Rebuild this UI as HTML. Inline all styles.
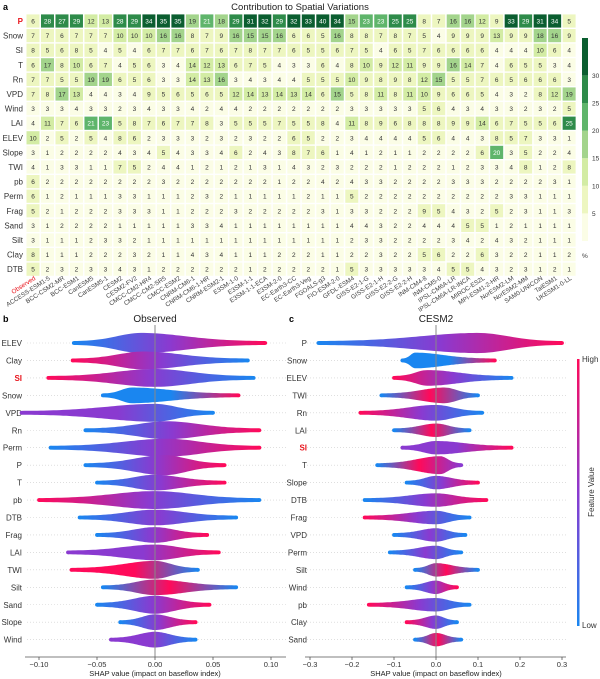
<!DOCTYPE html>
<html><head><meta charset="utf-8"><style>
html,body{margin:0;padding:0;background:#fff;}
svg{display:block;font-family:"Liberation Sans",sans-serif;}
</style></head><body>
<svg id="s" width="600" height="679" viewBox="0 0 600 679" xmlns="http://www.w3.org/2000/svg">
<defs></defs>
</svg>
<script>
const S=document.getElementById('s');const NS='http://www.w3.org/2000/svg';
function el(t,a,txt){const e=document.createElementNS(NS,t);for(const k in a)e.setAttribute(k,a[k]);if(txt!==undefined)e.textContent=txt;S.appendChild(e);return e;}
const defs=S.querySelector('defs');
const rows=["P","Snow","SI","T","Rn","VPD","Wind","LAI","ELEV","Slope","TWI","pb","Perm","Frag","Sand","Silt","Clay","DTB"];
const D=[
"6 28 27 29 12 13 28 29 34 35 35 19 21 18 29 31 32 29 32 33 40 34 15 23 23 25 25 8 7 16 16 12 9 33 29 31 34 5",
"7 7 6 7 7 7 10 10 10 16 16 8 7 9 16 15 15 16 6 6 5 16 8 8 7 8 7 5 4 9 9 9 13 9 9 18 16 9",
"8 5 6 8 5 4 5 4 6 7 7 6 7 6 7 8 7 7 6 5 5 6 7 5 4 6 5 7 6 6 6 6 4 4 4 10 6 4",
"6 17 8 10 6 7 4 5 6 3 4 14 12 13 6 7 5 4 3 3 6 4 8 10 9 12 11 9 9 16 14 7 4 6 5 5 3 4",
"7 7 5 5 19 19 6 5 6 3 3 14 13 16 3 4 3 4 4 5 5 5 10 9 8 9 8 12 15 5 5 7 6 5 6 6 6 3",
"7 8 17 13 4 4 3 4 9 5 6 5 6 5 12 14 13 14 13 14 6 15 5 8 11 8 11 10 9 6 6 5 4 3 2 8 12 19",
"3 3 3 4 3 3 2 3 4 3 3 4 2 4 4 2 2 2 2 2 2 2 3 3 3 3 3 5 6 4 3 4 3 3 2 3 2 5",
"4 11 7 6 21 23 5 8 7 6 7 7 8 3 5 5 5 7 5 5 8 4 11 8 9 6 8 8 8 9 9 14 6 7 5 5 6 25",
"10 2 5 2 5 4 8 6 2 3 3 3 2 3 2 3 2 2 6 5 2 2 3 4 4 4 4 5 6 4 4 3 8 5 7 3 3 1",
"3 1 2 2 2 2 4 3 4 5 4 3 3 4 6 2 4 3 8 7 6 1 4 1 2 1 1 2 2 2 2 6 20 3 5 2 2 4",
"4 1 3 3 1 1 7 5 2 4 4 1 2 1 2 1 3 1 4 3 2 3 2 2 2 1 2 2 2 1 2 3 3 4 8 1 2 8",
"6 2 2 2 2 2 2 2 2 3 2 2 2 2 2 2 2 1 2 2 4 2 4 3 3 2 2 2 2 3 3 3 2 2 2 2 3 1",
"6 1 2 1 1 1 3 3 1 1 1 2 3 2 1 1 1 1 1 2 1 1 5 2 2 2 2 2 2 2 2 2 2 3 3 1 1 1",
"5 2 1 2 2 2 3 3 3 1 1 2 2 2 3 2 2 2 2 2 3 1 3 3 2 2 2 9 5 4 3 2 5 2 3 1 1 3",
"3 1 2 2 2 2 1 1 1 1 1 3 3 4 1 1 1 1 1 1 1 1 4 4 3 2 2 4 4 4 5 5 1 2 1 1 1 1",
"3 1 1 1 2 3 3 2 1 1 1 1 1 1 1 1 1 1 1 1 1 1 2 3 3 2 2 2 2 3 4 2 4 3 2 1 1 1",
"8 1 1 1 2 2 2 3 2 1 1 4 3 4 1 1 1 2 2 2 1 1 2 2 3 2 2 5 6 2 2 6 3 2 2 1 1 2",
"5 2 3 2 3 3 4 3 1 2 2 2 2 2 2 1 2 2 2 2 2 1 5 3 3 3 3 3 4 5 5 4 3 2 3 1 2 1"];
const cols=["Observed","ACCESS-ESM1-5","BCC-CSM2-MR","BCC-ESM1","CanESM5","CanESM5-1","CESM2","CESM2-FV2","CMCC-CM2-HR4","CMCC-CM2-SR5","CMCC-ESM2","CNRM-CM6-1","CNRM-CM6-1-HR","CNRM-ESM2-1","E3SM-1-0","E3SM-1-1","E3SM-1-1-ECA","E3SM-2-0","EC-Earth3-CC","EC-Earth3-Veg","FGOALS-g3","FIO-ESM-2-0","GFDL-ESM4","GISS-E2-1-G","GISS-E2-1-H","GISS-E2-2-G","GISS-E2-2-H","INM-CM4-8","INM-CM5-0","IPSL-CM6A-LR","IPSL-CM6A-LR-INCA","MIROC-ES2L","MPI-ESM1-2-HR","NorESM2-LM","NorESM2-MM","SAM0-UNICON","TaiESM1","UKESM1-0-LL"];
const bands=["#fbfde6","#edf6c0","#d3eca4","#a3d48c","#5fb56b","#2e8b4a","#0b5e30"];
function col(v){return bands[Math.min(6,Math.floor(v/5))];}
const x0=33,px=14.49,y0=21,py=14.6;
el('text',{x:3,y:10,'font-size':9,'font-weight':'bold'},'a');
el('text',{x:300,y:10,'font-size':9.5,'text-anchor':'middle',fill:'#222'},'Contribution to Spatial Variations');
rows.forEach((r,i)=>{
  const y=y0+i*py;
  el('text',{x:23,y:y+3,'font-size':8,'text-anchor':'end',fill:r=='P'?'#e8141c':'#333','font-weight':r=='P'?'bold':'normal'},r);
  D[i].split(' ').map(Number).forEach((v,j)=>{
    const x=x0+j*px;
    el('rect',{x:x-6.5,y:y-6.6,width:13,height:13.2,fill:col(v)});
    el('text',{x:x,y:y+2.5,'font-size':6.5,'text-anchor':'middle',fill:v>=20?'#fff':'#333'},v);
  });
});
cols.forEach((c,j)=>{
  const x=x0+j*px+3, y=y0+17*py+10;
  el('text',{x:x,y:y,'font-size':6.3,'text-anchor':'end',fill:j==0?'#e8141c':'#444',transform:`rotate(-33 ${x} ${y})`},c);
});
const cb0=241,cbu=5.52;
for(let k=0;k<7;k++){const top=k==6?38:cb0-(k+1)*5*cbu;el('rect',{x:582,y:top,width:6,height:cb0-k*5*cbu-top,fill:bands[k]});}
[5,10,15,20,25,30].forEach(v=>el('text',{x:592,y:cb0-v*cbu+2.5,'font-size':6.5,fill:'#333'},v));
el('text',{x:582,y:258,'font-size':6.5,fill:'#333'},'%');
const B="#1a86f0",R="#ff0a5a",Pp="#8a3ad0";
let gid=0;
function grad(c1,c2,cm){const g=document.createElementNS(NS,'linearGradient');const id='g'+(gid++);g.setAttribute('id',id);
 const st=[[0,c1]];if(cm)st.push([0.5,cm]);st.push([1,c2]);
 st.forEach(([o,c])=>{const s=document.createElementNS(NS,'stop');s.setAttribute('offset',o);s.setAttribute('stop-color',c);g.appendChild(s);});defs.appendChild(g);return id;}
function swarm(cx,scale,yTop,label,rowsData,axisL,axisR,ticks,title,labX){
 el('text',{x:cx,y:322,'font-size':10,'text-anchor':'middle',fill:'#222'},title);
 rowsData.forEach((d,i)=>{
  let [lab,mn,mx,pk,h,c1,c2,cm]=d;h*=1.12;const y=yTop+i*17.45;
  el('line',{x1:axisL+2,x2:axisR,y1:y,y2:y,stroke:'#ccc','stroke-width':0.6,'stroke-dasharray':'1,2'});
  el('text',{x:labX,y:y+3,'font-size':8,'text-anchor':'end',fill:lab=='SI'?'#e8141c':'#333','font-weight':lab=='SI'?'bold':'normal'},lab);
  const xa=cx+mn*scale,xb=cx+mx*scale,xp=cx+pk*scale;
  const N=60;let top=[],bot=[];
  for(let k=0;k<=N;k++){const x=xa+(xb-xa)*k/N;const w=x<xp?(xp-xa)/2.0:(xb-xp)/2.0;
   let hh=1.8+(h-1.8)*Math.exp(-Math.pow((x-xp)/w,2));
   top.push([x,y-hh]);bot.push([x,y+hh]);}
  const pts=top.concat(bot.reverse()).map(p=>p[0].toFixed(1)+','+p[1].toFixed(1)).join(' ');
  const id=grad(c1,c2,cm);
  el('polygon',{points:pts,fill:`url(#${id})`});
  el('circle',{cx:xa,cy:y,r:1.9,fill:c1});el('circle',{cx:xb,cy:y,r:1.9,fill:c2});
 });
 el('line',{x1:cx,x2:cx,y1:yTop-18,y2:657,stroke:'#888','stroke-width':1});
 el('line',{x1:axisL,x2:axisR,y1:657,y2:657,stroke:'#555','stroke-width':0.8});
 ticks.forEach(t=>{const x=cx+t[0]*scale;el('line',{x1:x,x2:x,y1:657,y2:660,stroke:'#555','stroke-width':0.8});
  el('text',{x:x,y:667,'font-size':7.5,'text-anchor':'middle',fill:'#333'},t[1]);});
 el('text',{x:cx,y:676,'font-size':7.5,'text-anchor':'middle',fill:'#222'},'SHAP value (impact on baseflow index)');
}
el('text',{x:3,y:322,'font-size':9,'font-weight':'bold'},'b');
el('text',{x:289,y:322,'font-size':9,'font-weight':'bold'},'c');
swarm(155,1160,343,'b',[
["ELEV",-0.07,0.095,-0.012,9,B,R,Pp],
["Clay",-0.071,0.08,-0.01,8,R,B,Pp],
["SI",-0.092,0.085,0,8,R,B,Pp],
["Snow",-0.045,0.072,-0.02,7,B,R,B],
["VPD",-0.115,0.05,0,8,Pp,B,Pp],
["Rn",-0.06,0.09,0.01,8,B,R,Pp],
["Perm",-0.09,0.09,0.01,8,B,R,Pp],
["P",-0.06,0.06,0.008,9,B,R,Pp],
["T",-0.05,0.06,0,7,B,R,Pp],
["pb",-0.1,0.09,0,8,R,B,Pp],
["DTB",-0.065,0.07,0,7,B,B,Pp],
["Frag",-0.05,0.045,0,7,B,R,Pp],
["LAI",-0.075,0.055,0,7,Pp,R,Pp],
["TWI",-0.072,0.037,0,8,R,B,R],
["Silt",-0.045,0.07,0,7,B,B,R],
["Sand",-0.05,0.047,0,8,B,R,Pp],
["Slope",-0.03,0.035,0,7,B,R,Pp],
["Wind",-0.038,0.035,0,7,Pp,B,Pp]],25,286,[[-0.1,'−0.10'],[-0.05,'−0.05'],[0,'0.00'],[0.05,'0.05'],[0.1,'0.10']],'Observed',22);
swarm(436,420,343,'c',[
["P",-0.28,0.3,0.1,9,B,R,Pp],
["Snow",-0.08,0.14,-0.05,7,B,R,B],
["ELEV",-0.1,0.18,-0.02,7,R,B,Pp],
["TWI",-0.13,0.1,0.02,7,B,B,R],
["Rn",-0.18,0.11,0,7,R,B,Pp],
["LAI",-0.1,0.08,0,6,B,B,R],
["SI",-0.08,0.18,0,6,Pp,R,Pp],
["T",-0.14,0.06,0.01,8,B,Pp,R],
["Slope",-0.07,0.1,0,6,B,R,Pp],
["DTB",-0.17,0.12,0,6,B,R,Pp],
["Frag",-0.17,0.08,0,6,R,B,Pp],
["VPD",-0.1,0.07,0,6,B,B,Pp],
["Perm",-0.11,0.06,0,6,B,B,Pp],
["Silt",-0.05,0.1,0,6,B,B,R],
["Wind",-0.07,0.05,0,6,B,R,Pp],
["pb",-0.16,0.08,0,6,R,B,Pp],
["Clay",-0.07,0.05,0,6,R,B,Pp],
["Sand",-0.05,0.06,0,6,B,B,R]],305,566,[[-0.3,'−0.3'],[-0.2,'−0.2'],[-0.1,'−0.1'],[0,'0.0'],[0.1,'0.1'],[0.2,'0.2'],[0.3,'0.3']],'CESM2',307);
const gc=document.createElementNS(NS,'linearGradient');gc.setAttribute('id','fc');gc.setAttribute('x1',0);gc.setAttribute('y1',0);gc.setAttribute('x2',0);gc.setAttribute('y2',1);
[[0,R],[0.5,Pp],[1,B]].forEach(([o,c])=>{const s=document.createElementNS(NS,'stop');s.setAttribute('offset',o);s.setAttribute('stop-color',c);gc.appendChild(s);});defs.appendChild(gc);
el('rect',{x:577,y:359,width:2.5,height:267,fill:'url(#fc)'});
el('text',{x:582,y:362,'font-size':8,fill:'#333'},'High');
el('text',{x:582,y:628,'font-size':8,fill:'#333'},'Low');
el('text',{x:594,y:492,'font-size':8,fill:'#333','text-anchor':'middle',transform:'rotate(-90 594 492)'},'Feature Value');
</script>
</body></html>
